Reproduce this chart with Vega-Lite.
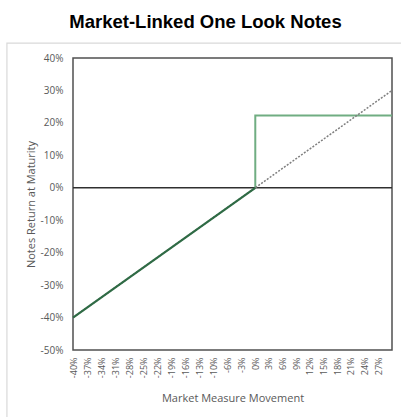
{
  "$schema": "https://vega.github.io/schema/vega-lite/v6.json",
  "width": 319,
  "height": 292,
  "autosize": {"type": "none"},
  "padding": {"left": 73, "top": 58, "right": 9, "bottom": 67},
  "background": "white",
  "title": {
    "text": "Market-Linked One Look Notes",
    "font": "Liberation Sans",
    "fontSize": 18.5,
    "fontWeight": "bold",
    "color": "#000000",
    "anchor": "middle",
    "frame": "group",
    "baseline": "alphabetic",
    "dx": -27,
    "offset": -4
  },
  "config": {
    "view": {"stroke": "#505050", "strokeWidth": 1.5},
    "axis": {
      "grid": false,
      "ticks": false,
      "domain": false,
      "labelOverlap": false,
      "tickCount": 100,
      "labelFont": "Open Sans",
      "labelColor": "#595959",
      "titleFont": "Open Sans",
      "titleFontSize": 11,
      "titleFontWeight": "normal",
      "titleColor": "#595959"
    },
    "axisX": {"labelFontSize": 9, "labelAngle": -90, "labelPadding": 7, "titlePadding": 15, "labelFlush": false},
    "axisY": {"labelFontSize": 10, "labelPadding": 10, "titlePadding": 4}
  },
  "datasets": {
    "ref": [
      {"x": -40, "y": -40},
      {"x": 30, "y": 30}
    ],
    "down": [
      {"x": -40, "y": -40},
      {"x": 0, "y": 0}
    ],
    "up": [
      {"o": 1, "x": 0, "y": 0},
      {"o": 2, "x": 0, "y": 22.3},
      {"o": 3, "x": 30, "y": 22.3}
    ],
    "zero": [{"y": 0}],
    "frame": [{"x1": -54.5, "x2": 33, "y1": 44.6, "y2": -72}]
  },
  "layer": [
    {
      "data": {"name": "frame"},
      "mark": {"type": "rect", "fill": null, "stroke": "#d9d9d9", "strokeWidth": 1.2, "clip": false},
      "encoding": {
        "x": {"field": "x1", "type": "quantitative"},
        "x2": {"field": "x2"},
        "y": {"field": "y1", "type": "quantitative"},
        "y2": {"field": "y2"}
      }
    },
    {
      "data": {"name": "zero"},
      "mark": {"type": "rule", "color": "#303030", "strokeWidth": 1.5},
      "encoding": {
        "y": {"field": "y", "type": "quantitative"}
      }
    },
    {
      "data": {"name": "up"},
      "mark": {"type": "line", "color": "#70ad82", "strokeWidth": 2},
      "encoding": {
        "x": {
          "field": "x",
          "type": "quantitative",
          "scale": {"domain": [-40, 30], "nice": false, "zero": false},
          "axis": {
            "values": [-40, -36.92, -33.85, -30.77, -27.69, -24.62, -21.54, -18.46, -15.38, -12.31, -9.23, -6.15, -3.08, 0, 3, 6, 9, 12, 15, 18, 21, 24, 27],
            "labelExpr": "(datum.value < -6.5 ? floor(datum.value) : round(datum.value)) + '%'",
            "title": "Market Measure Movement"
          }
        },
        "y": {
          "field": "y",
          "type": "quantitative",
          "scale": {"domain": [-50, 40], "nice": false, "zero": false},
          "axis": {
            "values": [-50, -40, -30, -20, -10, 0, 10, 20, 30, 40],
            "labelExpr": "datum.value + '%'",
            "title": "Notes Return at Maturity"
          }
        },
        "order": {"field": "o"}
      }
    },
    {
      "data": {"name": "ref"},
      "mark": {"type": "line", "color": "#7f7f7f", "strokeWidth": 1.5, "strokeDash": [2, 1.5]},
      "encoding": {
        "x": {"field": "x", "type": "quantitative"},
        "y": {"field": "y", "type": "quantitative"}
      }
    },
    {
      "data": {"name": "down"},
      "mark": {"type": "line", "color": "#2f6b45", "strokeWidth": 2.2},
      "encoding": {
        "x": {"field": "x", "type": "quantitative"},
        "y": {"field": "y", "type": "quantitative"}
      }
    }
  ]
}
